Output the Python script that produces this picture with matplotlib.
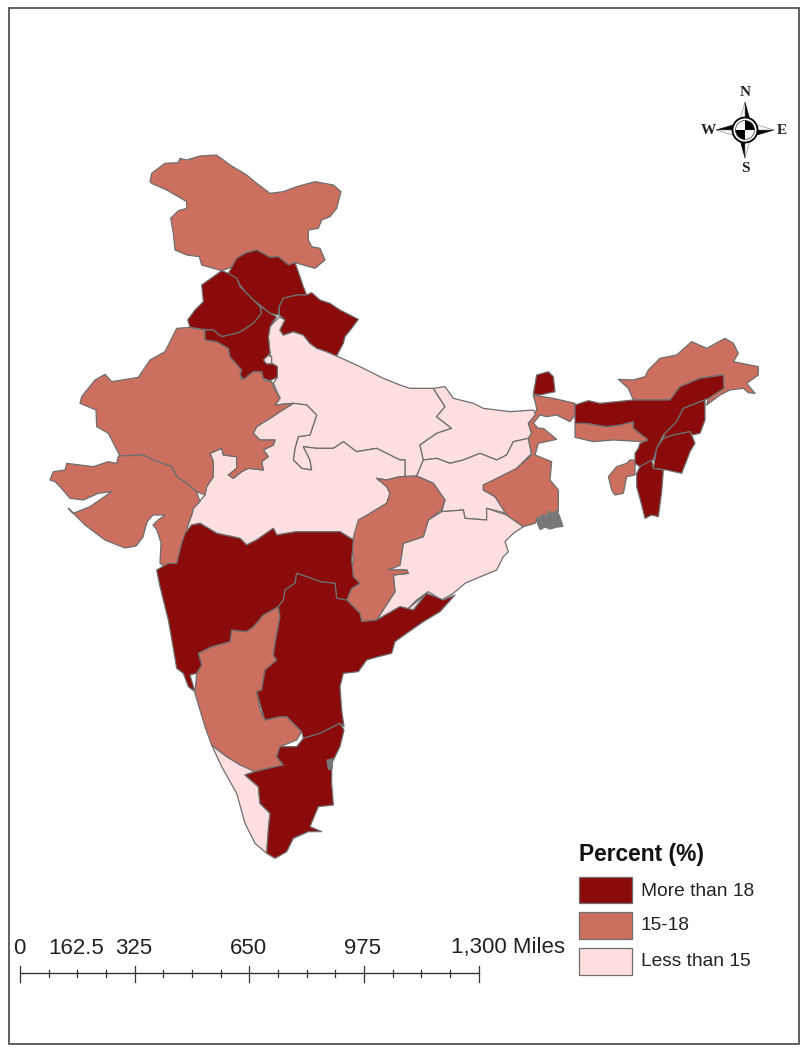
import matplotlib
matplotlib.use("Agg")
import matplotlib.pyplot as plt
from matplotlib.patches import Polygon, Rectangle, Circle, Wedge

def z3(p): return [(40 + x / 3, 140 + y / 3) for x, y in p]
def z4(p): return [(400 + x / 3, 320 + y / 3) for x, y in p]
def z5(p): return [(140 + x / 3, 520 + y / 3) for x, y in p]

CLASS_LABELS = ["More than 18", "15-18", "Less than 15"]
CLASS_COLORS = ["#8B0A0A", "#CC6F5E", "#FEDFDF"]
EDGE = "#6E6E6E"

# Map outlines, in reference pixel coordinates
mp_up_border = [(760,790),(800,795),(830,825),(810,885),(775,890),(765,925),(760,960),(785,985),(815,990),(810,960),(790,920),(830,925),(880,925),(910,905),(950,935),(1010,925),(1080,960)]
mh_top = [(135,40),(155,15),(180,10),(230,40),(300,55),(320,75),(350,60),(400,25),(410,45),(470,35),(520,35),(600,35),(640,60)]

uttar_pradesh = z3([(718,530),(690,560),(685,590),(690,640),(695,672),(712,680),(712,712),(700,730),(720,775),(705,795)] + mp_up_border) + z4([(15,420),(15,470),(50,468),(70,420),(60,375),(110,340),(155,325),(110,290),(135,260),(100,205),(30,205),(0,195)]) + z3([(1030,715),(960,680),(890,648),(860,635),(810,610),(790,585),(760,575),(730,585),(720,570),(735,540)])
madhya_pradesh = z3([(460,1105),(495,1065),(500,1040),(520,1010),(520,965),(510,940),(545,925),(550,945),(590,950),(590,985),(565,1005),(580,1015),(605,995),(625,985),(670,990),(665,965),(685,950),(670,930),(700,915),(705,900),(660,900),(640,880),(650,860),(690,835),(720,815)] + mp_up_border) + z4([(15,420),(15,470),(0,470)]) + z3([(1040,1020),(1010,1015),(1040,1040),(1050,1060),(1040,1090),(990,1120),(950,1200)]) + z5(mh_top[::-1]) + z3([(455,1125)])
bihar = z4([(100,205),(135,200),(160,235),(220,250),(250,265),(330,275),(400,270),(410,285),(385,310),(395,340),(385,355),(340,365),(320,405),(290,420),(240,400),(190,420),(150,430),(110,415),(70,420),(60,375),(110,340),(155,325),(110,290),(135,260)])
jharkhand = z4([(70,420),(110,415),(150,430),(190,420),(240,400),(290,420),(320,405),(340,365),(385,355),(395,400),(350,445),(320,465),(250,495),(250,510),(285,530),(320,580),(260,565),(260,600),(195,595),(190,570),(125,575),(135,540),(100,490),(50,468)])
odisha = z4([(125,575),(190,570),(195,595),(260,600),(260,565),(320,585),(370,620),(340,640),(315,665),(325,695),(310,710),(290,750),(230,775),(195,790),(160,820),(125,840),(85,815),(50,840),(20,870)]) + z5([(860,220),(820,270),(780,260),(710,300),(765,215),(760,165),(805,160),(800,150),(745,150),(780,135),(790,70),(850,50),(865,0)])
kerala = z5([(215,675),(260,710),(345,755),(315,765),(355,800),(360,850),(390,880),(385,930),(380,1000),(345,970),(315,910),(290,820),(245,740)])
delhi = z3([(667,660),(680,645),(695,650),(695,672),(675,672)])

jammu_kashmir = z3([(330,125),(335,100),(375,70),(415,68),(420,55),(440,60),(480,48),(530,45),(570,75),(620,105),(650,130),(690,160),(730,155),(770,140),(825,125),(880,135),(903,155),(890,205),(870,230),(845,240),(835,265),(805,270),(805,300),(815,320),(840,325),(855,360),(825,385),(790,375),(765,368),(745,375),(715,350),(690,352),(650,330),(620,338),(590,355),(585,378),(545,392),(520,385),(485,375),(478,350),(440,345),(405,330),(400,280),(392,235),(415,212),(440,205),(440,185),(415,170),(380,150),(335,130)])
rajasthan = z3([(410,565),(450,562),(495,570),(495,600),(530,605),(565,625),(570,650),(605,690),(600,715),(610,718),(640,695),(665,695),(672,720),(695,725),(705,750),(720,775),(705,795),(760,790),(720,815),(690,835),(650,860),(640,880),(660,900),(705,900),(700,915),(670,930),(685,950),(665,965),(670,990),(625,985),(605,995),(580,1015),(565,1005),(590,985),(590,950),(550,945),(545,925),(510,940),(520,965),(520,1010),(500,1040),(495,1065),(470,1055),(440,1030),(410,1010),(395,980),(340,960),(310,945),(240,948),(205,880),(170,860),(168,810),(120,790),(125,770),(165,720),(195,703),(215,725),(295,712),(330,660),(375,635)])
gujarat = z3([(235,948),(310,945),(340,960),(395,980),(410,1010),(440,1030),(470,1055),(480,1085),(460,1105),(455,1125),(440,1165)]) + [(190,533),(182,543),(177,563),(168,570),(160,563),(161,543),(157,530),(153,525),(158,520),(165,515),(153,515),(147,522),(143,537),(136,546),(125,548),(105,540),(85,525)] + z3([(85,1105),(100,1120),(150,1100),(215,1055),(175,1060),(130,1080),(90,1075),(60,1040),(45,1025),(30,1020),(40,995),(75,990),(80,970),(120,975),(160,980),(205,965),(230,970)])
chhattisgarh = z3([(1010,1015),(1040,1020)]) + z4([(0,470),(50,468),(100,490),(135,540),(125,570)]) + z5([(865,0),(850,50),(790,70),(780,135),(745,150),(800,150),(805,160),(760,165),(765,215),(710,300),(665,305),(655,275),(620,240),(635,205),(660,190),(630,170),(640,120),(635,70),(655,0)]) + z3([(990,1120),(1040,1090),(1050,1060),(1040,1040)])
west_bengal = z4([(400,225),(460,235),(525,250),(525,285),(510,305),(470,285),(440,290),(420,285),(400,310),(415,325),(430,325),(470,358),(415,370),(405,405),(455,425),(450,480),(475,510),(475,575),(420,590),(405,610),(370,620),(320,585),(285,530),(250,510),(250,495),(350,445),(395,405),(385,355),(395,340),(385,310),(405,285),(410,265)])
karnataka = z5([(415,260),(420,290),(405,370),(400,405),(410,420),(375,450),(365,510),(350,515),(360,570),(375,600),(420,590),(440,590),(485,635),(470,660),(420,680),(410,710),(430,735),(385,745),(345,755),(300,735),(260,710),(215,675),(195,620),(165,520),(170,460),(185,435),(175,400),(215,380),(270,365),(275,330),(320,335),(340,320),(370,285)])
arunachal_pradesh = z4([(655,178),(700,180),(735,170),(745,150),(780,115),(830,105),(875,65),(920,85),(975,55),(1000,70),(1015,100),(1000,125),(1075,140),(1075,165),(1040,190),(1065,220),(1045,218),(1030,205),(990,210),(960,225),(920,255),(925,235),(970,205),(965,165),(900,175),(840,200),(810,240),(700,240),(685,205)])
meghalaya = z4([(525,310),(555,310),(620,320),(660,315),(700,305),(700,325),(745,360),(730,365),(640,360),(580,365),(525,352)])
tripura = z4([(705,420),(705,465),(680,470),(670,520),(645,525),(635,510),(625,470),(650,440),(680,430),(690,420)])

himachal_pradesh = z3([(565,400),(590,355),(620,338),(650,330),(690,352),(715,350),(745,375),(765,368),(780,410),(790,440),(800,465),(770,465),(730,475),(718,500),(715,525),(690,520),(660,495),(640,480),(620,460),(600,435),(590,415),(565,405)])
punjab = z3([(443,540),(465,510),(490,485),(485,435),(520,410),(545,392),(565,400),(590,415),(600,440),(620,460),(640,480),(660,500),(665,520),(640,550),(610,570),(590,580),(545,590),(520,570),(490,568),(450,562)])
haryana = z3([(495,570),(520,570),(545,590),(590,580),(610,570),(640,550),(665,520),(660,498),(690,520),(710,530),(690,560),(685,590),(690,640),(670,660),(680,672),(700,672),(712,680),(712,712),(690,722),(670,715),(665,695),(640,695),(610,718),(600,705),(605,690),(570,650),(565,625),(530,605),(495,600)])
uttarakhand = z3([(718,500),(730,475),(770,465),(800,465),(815,458),(840,480),(870,490),(900,510),(955,538),(935,565),(915,590),(910,610),(890,648),(860,635),(830,625),(810,610),(790,585),(760,575),(730,585),(720,570),(735,540),(718,525)])
sikkim = z4([(410,165),(445,155),(460,170),(465,215),(420,225),(400,222)])
assam = z4([(525,255),(565,242),(600,250),(700,240),(810,240),(840,200),(900,175),(970,165),(972,205),(925,235),(850,265),(830,305),(790,345),(770,385),(760,420),(720,440),(705,430),(705,400),(715,385),(720,370),(745,360),(700,325),(700,305),(660,315),(620,320),(560,310),(525,310)])
nagaland = z4([(850,265),(915,240),(915,300),(900,340),(875,345),(870,335),(820,345),(790,355),(795,340),(830,305)])
manipur = z4([(790,355),(820,345),(870,335),(875,345),(885,370),(870,395),(845,460),(800,450),(760,445),(770,385)])
mizoram = z4([(720,440),(755,420),(760,445),(790,450),(785,515),(775,590),(755,585),(735,595),(725,555),(710,500),(710,460)])
maharashtra = z5(mh_top + [(635,120),(640,170),(660,190),(635,205),(620,240),(590,235),(585,190),(540,185),(500,170),(470,160),(465,190),(435,210),(430,240),(415,260),(370,285),(340,320),(320,335),(275,330),(270,365),(215,380),(175,400),(185,435),(170,460),(150,465),(165,515),(145,500),(130,460),(110,445),(100,385),(85,300),(70,240),(60,200),(50,150),(85,130),(110,130),(125,70)])
andhra_telangana = z5([(470,160),(500,170),(540,185),(585,190),(590,235),(620,240),(660,280),(665,305),(710,300),(780,260),(820,270),(860,220),(910,240),(945,225),(900,275),(850,305),(800,340),(765,365),(755,400),(715,410),(680,420),(655,455),(610,460),(600,500),(605,570),(612,620),(600,610),(540,640),(490,655),(485,635),(440,590),(420,590),(375,600),(365,570),(350,515),(365,510),(375,450),(410,420),(400,405),(405,370),(420,290),(415,260),(430,240),(435,210),(465,190)])
tamil_nadu = z5([(345,755),(385,745),(430,735),(410,710),(420,680),(470,680),(490,655),(540,640),(600,610),(612,630),(600,680),(575,730),(575,790),(580,855),(535,860),(510,920),(545,935),(505,935),(460,955),(440,995),(405,1015),(380,1000),(385,930),(390,880),(360,850),(355,800),(315,765)])

sundarbans = z4([(408,590),(418,598),(428,582),(440,590),(447,570),(458,585),(470,568),(480,590),(490,620),(470,622),(450,628),(435,622),(420,630),(412,612)])
pulicat = z5([(560,720),(578,715),(578,745),(565,750)])

STATES_BY_CLASS = {
    "Less than 15": [uttar_pradesh, madhya_pradesh, bihar, jharkhand, odisha, kerala, delhi],
    "15-18": [jammu_kashmir, rajasthan, gujarat, chhattisgarh, west_bengal, karnataka, arunachal_pradesh, meghalaya, tripura],
    "More than 18": [himachal_pradesh, punjab, haryana, uttarakhand, sikkim, assam, nagaland, manipur, mizoram, maharashtra, andhra_telangana, tamil_nadu],
}

SCALE_TICKS = [0, 162.5, 325, 650, 975, 1300]
SCALE_LABELS = ["0", "162.5", "325", "650", "975", "1,300 Miles"]

fig = plt.figure(figsize=(8, 10.48), dpi=100)
ax = fig.add_axes([0, 0, 1, 1])
ax.set_xlim(0, 800)
ax.set_ylim(1048, 0)
ax.axis("off")
SANS = "Liberation Sans"
SERIF = "Liberation Serif"

ax.add_patch(Rectangle((9, 8), 790, 1036, fc="white", ec="#555555", lw=1.3))

for label in ["Less than 15", "15-18", "More than 18"]:
    col = CLASS_COLORS[CLASS_LABELS.index(label)]
    for poly in STATES_BY_CLASS[label]:
        ax.add_patch(Polygon(poly, closed=True, fc=col, ec=EDGE, lw=0.9, joinstyle="round"))
for poly in (sundarbans, pulicat):
    ax.add_patch(Polygon(poly, closed=True, fc="#777777", ec="#777777", lw=0.5))

# Scale bar
x0, x1 = 20.0, 478.5
to_px = lambda m: x0 + (x1 - x0) * m / 1300
ax.plot([x0, x1], [973, 973], color="#333333", lw=1.0)
for i in range(17):
    m = i * 81.25
    major = i % 4 == 0
    ax.plot([to_px(m)] * 2, [966, 982] if major else [970, 977], color="#333333", lw=0.9)
for m, lab in zip(SCALE_TICKS, SCALE_LABELS):
    if lab.endswith("Miles"):
        ax.text(451, 948, lab, fontsize=16, family=SANS, ha="left", va="center", color="#222222")
    else:
        ax.text(to_px(m) - 1, 948, lab, fontsize=16, family=SANS, ha="center", va="center", color="#222222")

# Legend
ax.text(579, 854, "Percent (%)", fontsize=16.4, family=SANS, weight="bold", ha="left", va="center", color="#111111")
for lab, col, top, bot, yc in zip(CLASS_LABELS, CLASS_COLORS, [877, 912, 948], [903, 939, 975], [891, 926, 962]):
    ax.add_patch(Rectangle((579, top), 53, bot - top, fc=col, ec=EDGE, lw=0.9))
    ax.text(641, yc, lab, fontsize=13.8, family=SANS, ha="left", va="center", color="#222222")

# North arrow
cx, cy = 745, 130
for pts in ([(cx, 102), (cx + 5, 120), (cx, 120)], [(cx, 158), (cx - 5, 140), (cx, 140)],
            [(716, cy), (733, cy - 5), (733, cy)], [(774, cy), (757, cy + 5), (757, cy)]):
    ax.add_patch(Polygon(pts, closed=True, fc="black", ec="black", lw=0.4, zorder=5))
for pts in ([(cx, 102), (cx - 5, 120), (cx, 120)], [(cx, 158), (cx + 5, 140), (cx, 140)],
            [(716, cy), (733, cy + 5), (733, cy)], [(774, cy), (757, cy - 5), (757, cy)]):
    ax.add_patch(Polygon(pts, closed=True, fc="white", ec="#777777", lw=0.4, zorder=5))
ax.add_patch(Circle((cx, cy), 12.5, fc="white", ec="black", lw=1.3, zorder=6))
ax.add_patch(Wedge((cx, cy), 9.5, 270, 360, fc="black", ec="none", zorder=7))
ax.add_patch(Wedge((cx, cy), 9.5, 90, 180, fc="black", ec="none", zorder=7))
ax.add_patch(Circle((cx, cy), 9.5, fc="none", ec="#333333", lw=0.5, zorder=7))
for s, x, y in [("N", 745, 93), ("S", 745, 169), ("W", 708, 131), ("E", 782, 131)]:
    ax.text(x, y, s, fontsize=11, family=SERIF, weight="bold", ha="center", va="center", color="#222222")

fig.savefig("out.png", dpi=100)
